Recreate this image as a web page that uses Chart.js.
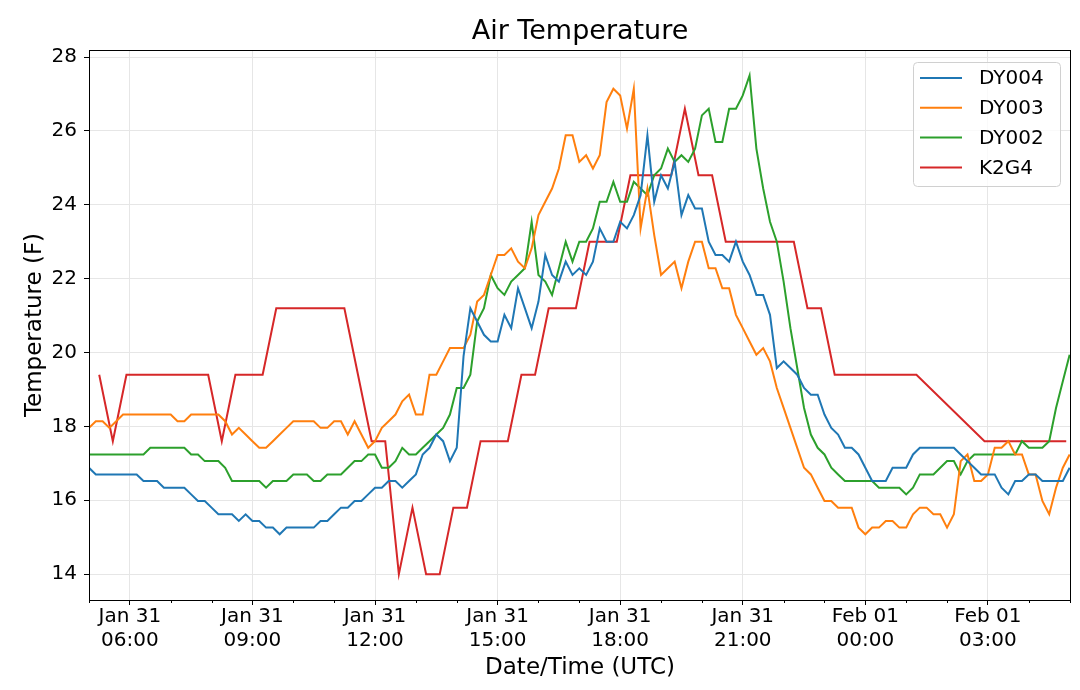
<!DOCTYPE html>
<html>
<head>
<meta charset="utf-8">
<title>Air Temperature</title>
<script src="https://cdn.jsdelivr.net/npm/chart.js@4.4.1/dist/chart.umd.min.js"></script>
<style>
  body { margin: 0; background: #fff; }
  canvas { display: block; }
</style>
</head>
<body>
<canvas id="chart" width="1080" height="690"></canvas>
<script>
// times are minutes after Jan 31 00:00 UTC
// DY stations report every 10 minutes starting 05:00
const dyStart = 300;
const dyStep = 10;

const dy004 = [
  16.88, 16.7, 16.7, 16.7, 16.7, 16.7, 16.7, 16.7, 16.52, 16.52,
  16.52, 16.34, 16.34, 16.34, 16.34, 16.16, 15.98, 15.98, 15.8, 15.62,
  15.62, 15.62, 15.44, 15.62, 15.44, 15.44, 15.26, 15.26, 15.08, 15.26,
  15.26, 15.26, 15.26, 15.26, 15.44, 15.44, 15.62, 15.8, 15.8, 15.98,
  15.98, 16.16, 16.34, 16.34, 16.52, 16.52, 16.34, 16.52, 16.7, 17.24,
  17.42, 17.78, 17.6, 17.06, 17.42, 19.9, 21.2, 20.84, 20.48, 20.3,
  20.3, 21.02, 20.66, 21.74, 21.2, 20.66, 21.38, 22.64, 22.1, 21.92,
  22.46, 22.1, 22.28, 22.1, 22.46, 23.36, 23.0, 23.0, 23.54, 23.36,
  23.72, 24.26, 25.88, 24.08, 24.8, 24.44, 25.16, 23.72, 24.26, 23.9,
  23.9, 23.0, 22.64, 22.64, 22.46, 23.0, 22.46, 22.1, 21.56, 21.56,
  21.02, 19.58, 19.76, 19.58, 19.4, 19.04, 18.86, 18.86, 18.32, 17.96,
  17.78, 17.42, 17.42, 17.24, 16.88, 16.52, 16.52, 16.52, 16.88, 16.88,
  16.88, 17.24, 17.42, 17.42, 17.42, 17.42, 17.42, 17.42, 17.24, 17.06,
  16.88, 16.7, 16.7, 16.7, 16.34, 16.16, 16.52, 16.52, 16.7, 16.7,
  16.52, 16.52, 16.52, 16.52, 16.88
];

const dy003 = [
  17.96, 18.14, 18.14, 17.96, 18.14, 18.32, 18.32, 18.32, 18.32, 18.32,
  18.32, 18.32, 18.32, 18.14, 18.14, 18.32, 18.32, 18.32, 18.32, 18.32,
  18.14, 17.78, 17.96, 17.78, 17.6, 17.42, 17.42, 17.6, 17.78, 17.96,
  18.14, 18.14, 18.14, 18.14, 17.96, 17.96, 18.14, 18.14, 17.78, 18.14,
  17.78, 17.42, 17.6, 17.96, 18.14, 18.32, 18.68, 18.86, 18.32, 18.32,
  19.4, 19.4, 19.76, 20.12, 20.12, 20.12, 20.48, 21.38, 21.56, 22.1,
  22.64, 22.64, 22.82, 22.46, 22.28, 22.82, 23.72, 24.08, 24.44, 24.98,
  25.88, 25.88, 25.16, 25.34, 24.98, 25.34, 26.78, 27.14, 26.96, 26.06,
  27.14, 23.36, 24.44, 23.18, 22.1, 22.28, 22.46, 21.74, 22.46, 23.0,
  23.0, 22.28, 22.28, 21.74, 21.74, 21.02, 20.66, 20.3, 19.94, 20.12,
  19.76, 19.04, 18.5, 17.96, 17.42, 16.88, 16.7, 16.34, 15.98, 15.98,
  15.8, 15.8, 15.8, 15.26, 15.08, 15.26, 15.26, 15.44, 15.44, 15.26,
  15.26, 15.62, 15.8, 15.8, 15.62, 15.62, 15.26, 15.62, 17.06, 17.24,
  16.52, 16.52, 16.7, 17.42, 17.42, 17.6, 17.24, 17.24, 16.7, 16.7,
  15.98, 15.62, 16.34, 16.88, 17.24
];

const dy002 = [
  17.24, 17.24, 17.24, 17.24, 17.24, 17.24, 17.24, 17.24, 17.24, 17.42,
  17.42, 17.42, 17.42, 17.42, 17.42, 17.24, 17.24, 17.06, 17.06, 17.06,
  16.88, 16.52, 16.52, 16.52, 16.52, 16.52, 16.34, 16.52, 16.52, 16.52,
  16.7, 16.7, 16.7, 16.52, 16.52, 16.7, 16.7, 16.7, 16.88, 17.06,
  17.06, 17.24, 17.24, 16.88, 16.88, 17.06, 17.42, 17.24, 17.24, 17.42,
  17.6, 17.78, 17.96, 18.32, 19.04, 19.04, 19.4, 20.84, 21.2, 22.1,
  21.74, 21.56, 21.92, 22.1, 22.28, 23.54, 22.1, 21.92, 21.56, 22.28,
  23.0, 22.46, 23.0, 23.0, 23.36, 24.08, 24.08, 24.62, 24.08, 24.08,
  24.62, 24.44, 24.26, 24.8, 24.98, 25.52, 25.16, 25.34, 25.16, 25.52,
  26.42, 26.6, 25.7, 25.7, 26.6, 26.6, 26.96, 27.5, 25.52, 24.44,
  23.54, 23.0, 21.92, 20.66, 19.58, 18.5, 17.78, 17.42, 17.24, 16.88,
  16.7, 16.52, 16.52, 16.52, 16.52, 16.52, 16.34, 16.34, 16.34, 16.34,
  16.16, 16.34, 16.7, 16.7, 16.7, 16.88, 17.06, 17.06, 16.7, 17.06,
  17.24, 17.24, 17.24, 17.24, 17.24, 17.24, 17.24, 17.6, 17.42, 17.42,
  17.42, 17.6, 18.5, 19.22, 19.94
];

// K2G4 reports at :15, :35, :55 (a few reports missing after 01:15)
const k2g4Times = [
  315, 335, 355, 375, 395, 415, 435, 455, 475, 495,
  515, 535, 555, 575, 595, 615, 635, 655, 675, 695,
  715, 735, 755, 775, 795, 815, 835, 855, 875, 895,
  915, 935, 955, 975, 995, 1015, 1035, 1055, 1075, 1095,
  1115, 1135, 1155, 1175, 1195, 1215, 1235, 1255, 1275, 1295,
  1315, 1335, 1355, 1375, 1395, 1415, 1435, 1455, 1475, 1495,
  1515, 1615, 1635, 1655, 1675, 1695, 1715, 1735
];
const k2g4Values = [
  19.4, 17.6, 19.4, 19.4, 19.4, 19.4, 19.4, 19.4, 19.4, 17.6,
  19.4, 19.4, 19.4, 21.2, 21.2, 21.2, 21.2, 21.2, 21.2, 19.4,
  17.6, 17.6, 14.0, 15.8, 14.0, 14.0, 15.8, 15.8, 17.6, 17.6,
  17.6, 19.4, 19.4, 21.2, 21.2, 21.2, 23.0, 23.0, 23.0, 24.8,
  24.8, 24.8, 24.8, 26.6, 24.8, 24.8, 23.0, 23.0, 23.0, 23.0,
  23.0, 23.0, 21.2, 21.2, 19.4, 19.4, 19.4, 19.4, 19.4, 19.4,
  19.4, 17.6, 17.6, 17.6, 17.6, 17.6, 17.6, 17.6
];

const seriesNames = ['DY004', 'DY003', 'DY002', 'K2G4'];
const seriesColors = ['#1f77b4', '#ff7f0e', '#2ca02c', '#d62728'];

const xMin = 300, xMax = 1742;
const xTicks = [360, 540, 720, 900, 1080, 1260, 1440, 1620];
const xTickLabels = [
  ['Jan 31', '06:00'], ['Jan 31', '09:00'], ['Jan 31', '12:00'], ['Jan 31', '15:00'],
  ['Jan 31', '18:00'], ['Jan 31', '21:00'], ['Feb 01', '00:00'], ['Feb 01', '03:00']
];
const yTicks = [14, 16, 18, 20, 22, 24, 26, 28];
const yMin = 13.3, yMax = 28.19;

function dyPoints(values) {
  return values.map((v, i) => ({ x: dyStart + i * dyStep, y: v }));
}

const k2g4Points = k2g4Times.map((t, i) => ({ x: t, y: k2g4Values[i] }));

const FONT = "'DejaVu Sans', sans-serif";
Chart.defaults.font.family = FONT;
Chart.defaults.color = '#000';

// frame, hourly minor ticks, title and legend inside the plot
const decorations = {
  id: 'decorations',
  afterDraw(chart) {
    const { ctx, chartArea: a, scales: { x } } = chart;
    ctx.save();
    ctx.strokeStyle = '#000';
    ctx.lineWidth = 1;
    ctx.beginPath();
    for (let m = xMin; m <= xMax; m += 60) {
      if (xTicks.includes(m)) continue;
      const px = Math.round(x.getPixelForValue(m)) + 0.5;
      ctx.moveTo(px, a.bottom);
      ctx.lineTo(px, a.bottom + 3);
    }
    ctx.stroke();
    ctx.strokeRect(Math.round(a.left) + 0.5, Math.round(a.top) + 0.5,
      Math.round(a.right - a.left) - 1, Math.round(a.bottom - a.top));

    ctx.fillStyle = '#000';
    ctx.font = '27px ' + FONT;
    ctx.textAlign = 'center';
    ctx.textBaseline = 'middle';
    ctx.fillText('Air Temperature', (a.left + a.right) / 2, 32);

    // legend
    const w = 147, h = 124;
    const lx = a.right - 11 - w, ly = a.top + 12;
    ctx.beginPath();
    if (ctx.roundRect) ctx.roundRect(lx + 0.5, ly + 0.5, w, h, 4);
    else ctx.rect(lx + 0.5, ly + 0.5, w, h);
    ctx.fillStyle = 'rgba(255,255,255,0.8)';
    ctx.fill();
    ctx.strokeStyle = '#d0d0d0';
    ctx.stroke();
    ctx.font = '20px ' + FONT;
    ctx.textAlign = 'left';
    chart.data.datasets.forEach((ds, k) => {
      const ry = ly + 16 + k * 29.8;
      ctx.strokeStyle = ds.borderColor;
      ctx.lineWidth = 2;
      ctx.beginPath();
      ctx.moveTo(lx + 7, ry);
      ctx.lineTo(lx + 49, ry);
      ctx.stroke();
      ctx.fillStyle = '#000';
      ctx.fillText(ds.label, lx + 66, ry + 1);
    });
    ctx.restore();
  }
};

new Chart(document.getElementById('chart'), {
  type: 'line',
  data: {
    datasets: [
      { label: seriesNames[0], data: dyPoints(dy004), borderColor: seriesColors[0] },
      { label: seriesNames[1], data: dyPoints(dy003), borderColor: seriesColors[1] },
      { label: seriesNames[2], data: dyPoints(dy002), borderColor: seriesColors[2] },
      { label: seriesNames[3], data: k2g4Points, borderColor: seriesColors[3] }
    ]
  },
  options: {
    responsive: false,
    animation: false,
    devicePixelRatio: 1,
    layout: { padding: { top: 50, right: 9, left: 0, bottom: 0 } },
    elements: {
      line: { borderWidth: 2, tension: 0, fill: false },
      point: { radius: 0 }
    },
    plugins: {
      legend: { display: false },
      title: { display: false },
      tooltip: { enabled: false }
    },
    scales: {
      x: {
        type: 'linear',
        min: xMin,
        max: xMax,
        afterBuildTicks: s => { s.ticks = xTicks.map(v => ({ value: v })); },
        afterFit: s => { s.height = 90; },
        ticks: {
          autoSkip: false,
          maxRotation: 0,
          padding: 0,
          font: { size: 20, lineHeight: 1.2 },
          callback: (v, i) => xTickLabels[i]
        },
        grid: { color: '#e6e6e6', tickColor: '#000', tickLength: 5, lineWidth: 1 },
        border: { display: false },
        title: {
          display: true,
          text: 'Date/Time (UTC)',
          font: { size: 23, lineHeight: 1.2 },
          padding: { top: 0, bottom: 8 }
        }
      },
      y: {
        min: yMin,
        max: yMax,
        afterBuildTicks: s => { s.ticks = yTicks.map(v => ({ value: v })); },
        afterFit: s => { s.width = 89; },
        ticks: { padding: 7, font: { size: 20 } },
        grid: { color: '#e6e6e6', tickColor: '#000', tickLength: 5, lineWidth: 1 },
        border: { display: false },
        title: {
          display: true,
          text: 'Temperature (F)',
          font: { size: 23, lineHeight: 1.2 },
          padding: { top: 21, bottom: 0 }
        }
      }
    }
  },
  plugins: [decorations]
});
</script>
</body>
</html>
